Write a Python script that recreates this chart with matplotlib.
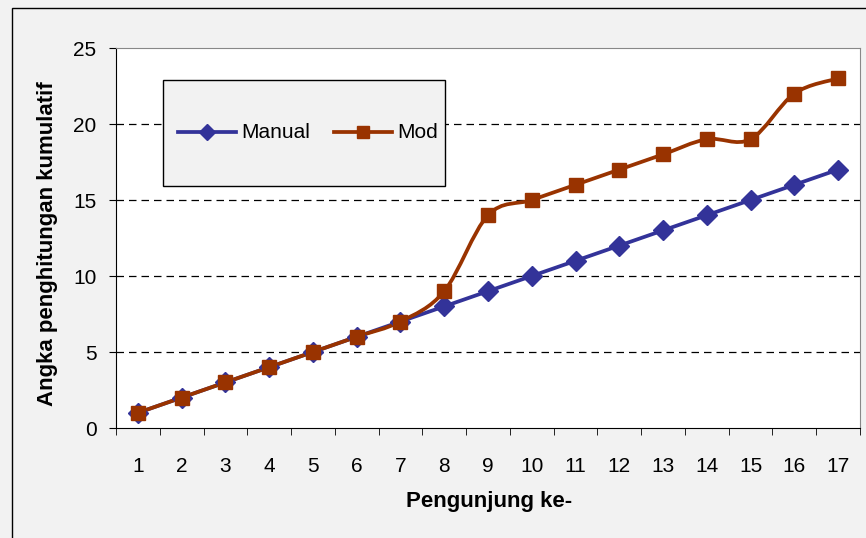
import numpy as np
import matplotlib.pyplot as plt
from matplotlib.path import Path
from matplotlib.patches import PathPatch, Rectangle
from matplotlib.lines import Line2D

plt.rcParams['font.family'] = ['Liberation Sans', 'DejaVu Sans']

# visitor number and cumulative counts
pengunjung = np.arange(1, 18)
manual = [1, 2, 3, 4, 5, 6, 7, 8, 9, 10, 11, 12, 13, 14, 15, 16, 17]
mod = [1, 2, 3, 4, 5, 6, 7, 9, 14, 15, 16, 17, 18, 19, 19, 22, 23]
seri = ['Manual', 'Mod']

C_MANUAL = '#333399'
C_MOD = '#993300'
FS = 15
FS_LABEL = 16


def smooth_path(x, y):
    # Excel-style smoothed line: cubic Bezier segments through every point
    x = np.asarray(x, float)
    y = np.asarray(y, float)
    n = len(x)
    verts = [(x[0], y[0])]
    codes = [Path.MOVETO]
    for i in range(n - 1):
        i0 = max(i - 1, 0)
        i3 = min(i + 2, n - 1)
        c1 = (x[i] + (x[i + 1] - x[i0]) / 6, y[i] + (y[i + 1] - y[i0]) / 6)
        c2 = (x[i + 1] - (x[i3] - x[i]) / 6, y[i + 1] - (y[i3] - y[i]) / 6)
        verts += [c1, c2, (x[i + 1], y[i + 1])]
        codes += [Path.CURVE4] * 3
    return Path(verts, codes)


W, H = 866, 538
fig = plt.figure(figsize=(W / 100, H / 100), dpi=100, facecolor='#f2f2f2')


def fx(px):
    return px / W


def fy(py):
    return 1 - py / H


ax = fig.add_axes([fx(116), fy(428), (860 - 116) / W, (428 - 48) / H])
ax.set_facecolor('white')

# outer chart frame
fig.patches.append(Rectangle((fx(12), -0.1), 1.2, fy(8) + 0.1,
                             transform=fig.transFigure, fill=False,
                             edgecolor='black', linewidth=1.0))

for v in [5, 10, 15, 20]:
    ax.axhline(v, color='black', linestyle=(0, (6, 4)), linewidth=0.9, zorder=1)

for yy, c, mk, ms in [(manual, C_MANUAL, 'D', 10.5), (mod, C_MOD, 's', 10.5)]:
    ax.add_patch(PathPatch(smooth_path(pengunjung, yy), facecolor='none',
                           edgecolor=c, linewidth=2.7, zorder=3,
                           capstyle='round', joinstyle='round'))
    ax.plot(pengunjung, yy, linestyle='none', marker=mk, markersize=ms,
            color=c, markeredgecolor=c, zorder=4)

ax.set_xlim(0.5, 17.5)
ax.set_ylim(0, 25)
ax.set_yticks([0, 5, 10, 15, 20, 25])
ax.set_xticks(pengunjung)
ax.set_xticks(np.arange(0.5, 18, 1), minor=True)
ax.tick_params(axis='x', which='major', length=0, pad=21, labelsize=FS)
ax.tick_params(axis='x', which='minor', length=5, direction='out', color='black')
ax.tick_params(axis='y', length=5, direction='out', pad=9, labelsize=FS)

for s in ['top', 'right']:
    ax.spines[s].set_color('#888888')
for s in ['left', 'bottom']:
    ax.spines[s].set_color('black')

ax.set_xlabel('Pengunjung ke-', fontsize=FS_LABEL, fontweight='bold')
ax.xaxis.set_label_coords((489 - 116) / 744, -(502 - 428) / 380)
ax.set_ylabel('Angka penghitungan kumulatif', fontsize=FS_LABEL, fontweight='bold')
ax.yaxis.set_label_coords(-(116 - 48) / 744, (428 - 244) / 380)
ax.yaxis.label.set_va('center')
ax.xaxis.label.set_va('center')

# legend box
fig.patches.append(Rectangle((fx(163), fy(186)), (445 - 163) / W, (186 - 80) / H,
                             transform=fig.transFigure, facecolor='#f2f2f2',
                             edgecolor='black', linewidth=1.0, zorder=5))
ly = fy(132)
for name, c, mk, ms, x0, x1 in [(seri[0], C_MANUAL, 'D', 8.5, 178, 236),
                                (seri[1], C_MOD, 's', 8, 334, 392)]:
    fig.add_artist(Line2D([fx(x0), fx(x1)], [ly, ly], color=c, linewidth=2.7,
                          transform=fig.transFigure, zorder=6))
    fig.add_artist(Line2D([fx((x0 + x1) / 2)], [ly], color=c, marker=mk,
                          markersize=ms, transform=fig.transFigure, zorder=6))
    fig.text(fx(x1 + 5), ly, name, fontsize=FS, va='center', ha='left', zorder=6)

fig.savefig('out.png', dpi=100, facecolor=fig.get_facecolor())
